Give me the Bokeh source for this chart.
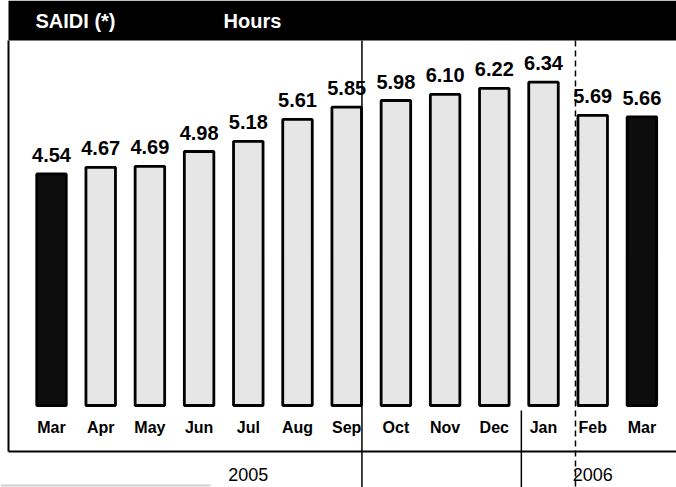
from bokeh.plotting import figure
from bokeh.models import Range1d
from bokeh.core.properties import value
from bokeh.embed import file_html
from bokeh.resources import INLINE

# ---- data ----
months = ["Mar", "Apr", "May", "Jun", "Jul", "Aug", "Sep",
          "Oct", "Nov", "Dec", "Jan", "Feb", "Mar"]
saidi = [4.54, 4.67, 4.69, 4.98, 5.18, 5.61, 5.85,
         5.98, 6.10, 6.22, 6.34, 5.69, 5.66]
value_text = [f"{v:.2f}" for v in saidi]
years = ["2005", "2006"]
year_centre = [4, 11]          # month index under which each year label sits
header_title = "SAIDI (*)"
header_unit = "Hours"

# ---- layout ----
W, H = 676, 487
PX = 49.2                      # pixels per month slot
PY = 51.0                      # pixels per hour
BASE = 405                     # pixel row of the bar baseline
LEFT = 51                      # pixel column of first bar centre
x0 = -LEFT / PX
x1 = x0 + W / PX
y_top = BASE / PY
y_bot = -(H - BASE) / PY
y_head = (BASE - 40) / PY      # bottom of black header band
y_line = -46 / PY              # bottom rule of the chart box
x_box = x0 + 8 / PX            # left border of the chart box
FONT = value("Liberation Sans")

p = figure(width=W, height=H, output_backend="svg", toolbar_location=None,
           x_range=Range1d(x0, x1), y_range=Range1d(y_bot, y_top),
           x_axis_location=None, y_axis_location=None, min_border=0,
           background_fill_color="white", border_fill_color="white")
p.grid.visible = False
p.outline_line_color = None

# header band
p.quad(left=[x_box], right=[x1], top=[y_top], bottom=[y_head],
       fill_color="black", line_color=None)
p.text(x=[x0], y=[(BASE - 20) / PY], text=[header_title], x_offset=35,
       text_color="white", text_font=FONT, text_font_style="bold",
       text_font_size="20px", text_baseline="middle", text_align="left")
p.text(x=[x0], y=[(BASE - 20) / PY], text=[header_unit], x_offset=223,
       text_color="white", text_font=FONT, text_font_style="bold",
       text_font_size="20px", text_baseline="middle", text_align="left")

# chart box: left border and bottom rule
p.segment(x0=[x_box], y0=[y_head], x1=[x_box], y1=[y_line],
          line_color="black", line_width=2)
p.segment(x0=[x_box], y0=[y_line], x1=[x1], y1=[y_line],
          line_color="black", line_width=2)
p.segment(x0=[x0], y0=[-80 / PY], x1=[x0 + 210 / PX], y1=[-80 / PY],
          line_color="#cfcfcf", line_width=2)

# bars
idx = list(range(len(months)))
colors = ["#0d0d0d" if i in (0, len(months) - 1) else "#e6e6e6" for i in idx]
p.vbar(x=idx, top=saidi, bottom=0, width=0.6, fill_color=colors,
       line_color="black", line_width=2.8)

# value labels (centred ~19 px above each bar top)
label_y = [v + 19 / PY for v in saidi]
p.text(x=idx, y=label_y, text=value_text,
       text_font=FONT, text_font_style="bold", text_font_size="20px",
       text_align="center", text_baseline="middle", text_color="black")

# month labels
p.text(x=idx, y=[-22 / PY] * len(idx), text=months,
       text_font=FONT, text_font_style="bold", text_font_size="16px",
       text_align="center", text_baseline="middle", text_color="black")

# year labels
p.text(x=year_centre, y=[-69 / PY] * len(years), text=years,
       text_font=FONT, text_font_size="18px",
       text_align="center", text_baseline="middle", text_color="black")

# period separators
p.segment(x0=[6.31], y0=[y_head], x1=[6.31], y1=[y_bot],
          line_color="black", line_width=1.5)
p.segment(x0=[9.55], y0=[-5 / PY], x1=[9.55], y1=[y_bot],
          line_color="black", line_width=1.5)
p.segment(x0=[10.65], y0=[y_head], x1=[10.65], y1=[y_bot],
          line_color="black", line_width=1.5, line_dash="6 4")

open("out.html", "w").write(file_html(p, INLINE))
